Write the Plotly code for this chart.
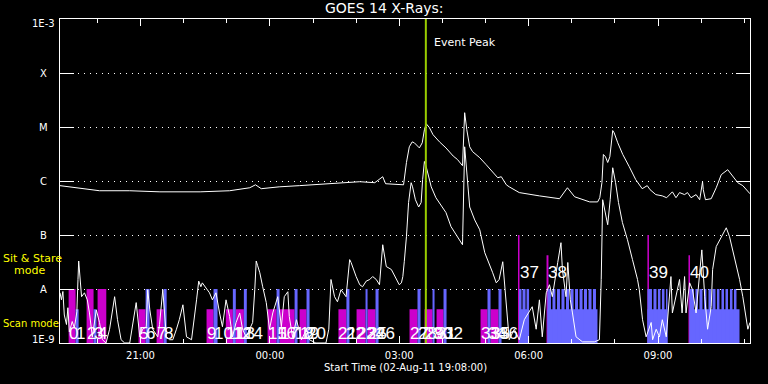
import math
import plotly.graph_objects as go
import pandas as pd

# ---------------- data ----------------
START = pd.Timestamp("2011-08-02 19:08:00")
END_MIN = 960                     # minutes shown after start
EVENT_PEAK_MIN = 509              # 03:37

# GOES long channel (1-8 A), minutes after start / flux W m^-2
long_min = [0, 13, 30, 55, 97, 139, 195, 236, 264, 272,
            280, 305, 333, 375, 417, 438, 449, 453, 472, 478,
            482, 486, 490, 493, 500, 504, 507, 509.5, 514, 519,
            528, 537, 547, 553, 560, 563, 566, 570, 574, 579,
            584, 593, 602, 609, 614, 621, 625, 639, 667, 695,
            706, 716, 737, 748, 751, 754, 756, 759, 762, 765,
            769, 771, 776, 783, 792, 801, 810, 817, 821, 829,
            838, 844, 852, 857, 862, 869, 873, 878, 885, 890,
            894, 895, 898, 906, 913, 920, 929, 936, 943, 950,
            960]
long_flux = [8.2e-7, 7.8e-7, 7.2e-7, 6.6e-7, 6.6e-7, 6.3e-7, 6.3e-7, 6.6e-7, 7.5e-7, 8.5e-7,
             7.2e-7, 7.8e-7, 8.2e-7, 8.9e-7, 9.7e-7, 9.3e-7, 1.2e-6, 8.9e-7, 8.5e-7, 8.5e-7,
             2.2e-6, 4.3e-6, 5.3e-6, 5.1e-6, 4.1e-6, 5.1e-6, 8.9e-6, 1.15e-5, 9.7e-6, 7.2e-6,
             5.3e-6, 4.1e-6, 2.9e-6, 2.5e-6, 1.92e-6, 1.84e-5, 8.9e-6, 4.3e-6, 3.5e-6, 3.1e-6,
             2.7e-6, 2.0e-6, 1.49e-6, 1.15e-6, 1.2e-6, 8.5e-7, 7.8e-7, 6.1e-7, 5.3e-7, 4.7e-7,
             7.5e-7, 5.1e-7, 4.1e-7, 4.1e-7, 4.9e-7, 9.3e-7, 3.1e-6, 2.8e-6, 2.2e-6, 2.8e-6,
             8.6e-6, 7.8e-6, 5.1e-6, 3.1e-6, 1.84e-6, 1.06e-6, 7.2e-7, 8.2e-7, 6.9e-7, 5.6e-7,
             5.3e-7, 4.9e-7, 6.3e-7, 4.9e-7, 6.1e-7, 5.6e-7, 6.1e-7, 4.9e-7, 5.6e-7, 4.5e-7,
             9.7e-7, 6.9e-7, 4.5e-7, 4.7e-7, 7.5e-7, 1.31e-6, 1.62e-6, 1.22e-6, 9.3e-7, 8.2e-7,
             5.8e-7]

# GOES short channel (0.5-4 A)
short_min = [0, 2, 4, 6, 9, 11, 13, 17, 20, 23.5,
             25, 26, 30, 34, 38, 41, 45, 50.5, 55, 59,
             64, 69, 76, 80, 85, 90, 97, 106, 111, 115,
             120, 122, 125, 129, 136, 138.5, 143, 148, 152.5, 157,
             162, 166, 171, 176, 183, 186, 190, 193, 196, 198,
             203.5, 208, 212, 217, 222, 226, 231, 236, 240, 245,
             250, 254, 259, 264, 268, 271, 273, 275, 278, 282,
             287, 291.5, 296, 303, 308, 312, 317, 319, 323.5, 329,
             336, 343, 347, 356, 370, 374, 377, 382, 386, 391,
             398, 403, 405, 412, 417, 421, 426, 431, 435, 440,
             444.5, 449, 454, 461, 468, 472, 475, 477, 479, 482,
             485, 488.5, 490.5, 494.5, 499, 502.5, 504.5, 507, 509.5, 512.5,
             516.5, 523, 530, 537, 544, 553, 560, 563, 565.5, 570,
             577, 584, 591, 595, 602, 607, 611, 616, 621, 625,
             632, 639, 646, 652, 657, 662.5, 667, 671, 676.5, 681,
             685, 692.5, 697, 699, 704, 706.5, 710, 713, 718, 727,
             743.5, 750.5, 753, 755, 757.5, 762, 765.5, 769, 773, 777,
             782.5, 789.5, 796.5, 803.5, 806, 810.5, 815.5, 822.5, 824.5, 829.5,
             834, 838, 843.5, 850, 852, 857, 862, 865.5, 869, 871,
             876, 880, 885, 890, 893, 897, 901, 906, 908, 913,
             920, 927, 931.5, 936, 941, 945.5, 950, 954.5, 957, 960]
short_flux = [8.5e-9, 6.3e-9, 9.0e-9, 3.3e-9, 2.2e-9, 4.5e-9, 1.6e-9, 2.5e-9, 1.9e-9, 3.8e-9,
              1.5e-8, 3.3e-8, 7.2e-9, 8.5e-9, 6.3e-9, 3.6e-9, 1.3e-9, 4.1e-9, 2.4e-9, 1.15e-9,
              1.0e-9, 1.8e-9, 7.2e-9, 2.7e-9, 1.15e-9, 1.0e-9, 1.0e-9, 5.6e-9, 1.3e-9, 1.8e-9,
              2.0e-9, 9.7e-9, 4.1e-9, 1.8e-9, 1.3e-9, 2.2e-9, 9.7e-9, 1.3e-9, 1.15e-9, 1.15e-9,
              1.8e-9, 2.7e-9, 5.1e-9, 1.3e-9, 1.15e-9, 2.7e-9, 6.3e-9, 1.4e-8, 1.1e-8, 1.3e-8,
              1.05e-8, 8.5e-9, 6.3e-9, 8.5e-9, 3.6e-9, 2.0e-9, 6.3e-9, 3.1e-9, 1.3e-9, 2.4e-9,
              3.6e-9, 1.8e-9, 1.3e-9, 1.8e-9, 2.4e-9, 9.7e-9, 3.3e-8, 2.7e-8, 2.0e-8, 1.1e-8,
              5.6e-9, 1.8e-9, 3.6e-9, 7.2e-9, 2.0e-9, 7.2e-9, 8.9e-9, 3.1e-9, 1.3e-9, 2.7e-9,
              1.15e-9, 1.8e-9, 1.15e-9, 1.0e-9, 1.0e-9, 1.8e-9, 1.5e-8, 7.2e-9, 5.8e-9, 9.7e-9,
              7.2e-9, 3.5e-8, 3.1e-8, 1.7e-8, 1.2e-8, 1.1e-8, 1.4e-8, 1.5e-8, 1.7e-8, 1.5e-8,
              1.2e-8, 6.6e-8, 2.6e-8, 2.3e-8, 1.5e-8, 1.2e-8, 1.3e-8, 1.7e-8, 3.2e-8, 9.3e-8,
              4.0e-7, 9.3e-7, 7.8e-7, 4.5e-7, 3.3e-7, 4.0e-7, 1.06e-6, 2.3e-6, 1.84e-6, 1.31e-6,
              7.8e-7, 4.9e-7, 3.6e-7, 2.6e-7, 1.43e-7, 9.3e-8, 6.6e-8, 4.3e-6, 1.84e-6, 3.3e-7,
              1.9e-7, 1.25e-7, 4.7e-8, 3.5e-8, 2.0e-8, 1.3e-8, 1.5e-8, 3.2e-8, 4.1e-9, 1.15e-9,
              1.8e-9, 1.15e-9, 2.7e-9, 3.6e-9, 4.7e-9, 1.8e-9, 6.3e-9, 1.3e-9, 8.5e-9, 1.2e-8,
              7.2e-9, 3.1e-8, 7.2e-8, 2.3e-8, 7.2e-9, 3.1e-8, 6.3e-9, 3.6e-9, 1.3e-9, 1.05e-9,
              1.05e-9, 1.15e-9, 1.5e-8, 4.5e-7, 2.9e-7, 1.55e-7, 4.5e-7, 1.76e-6, 9.3e-7, 4.0e-7,
              1.7e-7, 8.2e-8, 3.5e-8, 1.5e-8, 9.7e-9, 2.7e-9, 1.3e-9, 2.4e-9, 1.15e-9, 1.8e-9,
              1.3e-9, 2.7e-9, 1.3e-9, 1.7e-8, 3.6e-9, 7.2e-9, 1.5e-8, 3.6e-9, 1.7e-8, 3.6e-9,
              1.3e-8, 9.7e-9, 3.6e-9, 2.0e-8, 5.3e-8, 7.2e-9, 1.8e-9, 4.7e-9, 2.3e-8, 6.1e-8,
              9.3e-8, 1.36e-7, 9.3e-8, 5.3e-8, 2.6e-8, 1.5e-8, 7.2e-9, 3.1e-9, 1.8e-9, 2.4e-9]

# Observation blocks (minutes after start)
FLOOR = 1e-9
SIT_STARE_TOP = 1e-8
SCAN_TOP = 4.2e-9

mag_tall_start = [12.0, 37.0, 52.3]
mag_tall_end = [21.7, 46.7, 64.4]

mag_short_start = [109.3, 134.4, 203.9, 230.7, 244.6, 288.8, 305.5, 333.3,
                   387.4, 412.6, 427.9, 486.3, 507.2, 523.9, 585.1, 599.0]
mag_short_end = [119.1, 144.2, 213.6, 240.5, 255.8, 301.3, 326.4, 343.0,
                 398.5, 425.1, 439.0, 497.4, 518.3, 533.6, 594.8, 610.1]

blue_tall_start = [119.1, 144.2, 213.6, 240.5, 255.8, 301.3, 326.4, 343.0,
                   398.5, 425.1, 439.0, 497.4, 518.3, 533.6, 594.8, 610.1,
                   638.6, 643.5, 649.1,
                   678.2, 685.2, 691.5, 697.7, 704.0, 710.3, 716.6, 722.8, 729.0, 735.3, 741.5,
                   817.3, 825.7, 831.9, 837.5, 843.1,
                   875.8, 884.1, 889.7, 896.0, 902.2, 907.8, 914.0, 920.3, 925.9, 932.1, 937.7]
blue_tall_end = [124.6, 148.4, 219.2, 244.6, 259.9, 305.5, 330.5, 347.2,
                 402.7, 427.9, 443.2, 501.6, 521.1, 537.8, 599.0, 614.3,
                 642.1, 647.7, 652.6,
                 683.1, 689.3, 695.6, 701.9, 708.2, 714.5, 720.7, 727.0, 733.2, 739.5, 745.7,
                 823.6, 829.9, 835.4, 841.0, 845.2,
                 882.1, 887.6, 893.9, 899.4, 905.7, 912.0, 917.5, 923.8, 929.4, 935.6, 941.2]

blue_short_start = [21.7, 46.7, 638.6, 678.2, 817.3, 875.8]
blue_short_end = [25.9, 50.9, 652.6, 747.8, 845.2, 945.4]

mag_line_start = [637.2, 676.9, 817.3, 874.4]
mag_line_end = [639.3, 679.6, 819.4, 876.5]
mag_line_top = [1e-7, 4.2e-8, 1e-7, 4.2e-8]

obs_label_min = [12.0, 21.7, 37.0, 46.7, 52.3, 109.3, 119.1, 134.4, 144.2, 203.9,
                 213.6, 230.7, 240.5, 244.6, 255.8, 288.8, 301.3, 305.5, 326.4, 333.3,
                 343.0, 387.4, 398.5, 412.6, 425.1, 427.9, 439.0, 486.3, 497.4, 507.2,
                 518.3, 523.9, 533.6, 585.1, 594.8, 599.0, 610.1]
obs_label_high_min = [639.3, 679.6, 819.4, 876.5]
obs_label_high_text = ["37", "38", "39", "40"]

y_tick_vals = [1e-9, 1e-8, 1e-7, 1e-6, 1e-5, 1e-4, 1e-3]
y_tick_text = ["1E-9", "A", "B", "C", "M", "X", "1E-3"]

MAGENTA = "#cc00cc"
BLUE = "#6666ff"
GREEN = "#99cc00"
YELLOW = "#ffff00"
SMALL = "DejaVu Sans"
NUMF = "Liberation Sans"


def ts(m):
    return START + pd.Timedelta(minutes=m)


fig = go.Figure()


def add_rects(starts, ends, tops, color):
    xs, ys = [], []
    for s, e, top in zip(starts, ends, tops):
        xs += [ts(s), ts(s), ts(e), ts(e), ts(s), None]
        ys += [FLOOR, top, top, FLOOR, FLOOR, None]
    fig.add_trace(go.Scatter(x=xs, y=ys, mode="lines", fill="toself",
                             fillcolor=color, line=dict(width=0, color=color),
                             hoverinfo="skip", showlegend=False))


add_rects(mag_line_start, mag_line_end, mag_line_top, MAGENTA)
add_rects(mag_tall_start, mag_tall_end, [SIT_STARE_TOP] * len(mag_tall_start), MAGENTA)
add_rects(mag_short_start, mag_short_end, [SCAN_TOP] * len(mag_short_start), MAGENTA)
add_rects(blue_short_start, blue_short_end, [SCAN_TOP] * len(blue_short_start), BLUE)
add_rects(blue_tall_start, blue_tall_end, [SIT_STARE_TOP] * len(blue_tall_start), BLUE)

fig.add_trace(go.Scatter(x=[ts(m) for m in short_min], y=short_flux, mode="lines",
                         line=dict(color="white", width=1), showlegend=False))
fig.add_trace(go.Scatter(x=[ts(m) for m in long_min], y=long_flux, mode="lines",
                         line=dict(color="white", width=1), showlegend=False))
fig.add_trace(go.Scatter(x=[ts(EVENT_PEAK_MIN), ts(EVENT_PEAK_MIN)], y=[1e-9, 1e-3],
                         mode="lines", line=dict(color=GREEN, width=2), showlegend=False))

ann = []
# y tick labels (centred, IDL style)
for v, t in zip(y_tick_vals, y_tick_text):
    shift = 0
    if t == "1E-3":
        shift = -4
    if t == "1E-9":
        shift = 4
    ann.append(dict(xref="paper", yref="y", x=-0.0235, y=math.log10(v), text=t,
                    showarrow=False, xanchor="center", yanchor="middle", yshift=shift,
                    font=dict(family=SMALL, size=10, color="white")))
# observation numbers
for i, m in enumerate(obs_label_min):
    ann.append(dict(xref="x", yref="paper", x=ts(m), y=0.03, text=str(i), showarrow=False,
                    xanchor="left", yanchor="middle", xshift=-2,
                    font=dict(family=NUMF, size=17, color="white")))
for m, t in zip(obs_label_high_min, obs_label_high_text):
    ann.append(dict(xref="x", yref="paper", x=ts(m), y=0.219, text=t, showarrow=False,
                    xanchor="left", yanchor="middle", xshift=-2,
                    font=dict(family=NUMF, size=17, color="white")))
# mode labels
ann.append(dict(xref="paper", yref="paper", x=-0.085, y=0.262, text="Sit & Stare",
                showarrow=False, xanchor="left", yanchor="middle",
                font=dict(family=SMALL, size=11, color=YELLOW)))
ann.append(dict(xref="paper", yref="paper", x=-0.069, y=0.223, text="mode",
                showarrow=False, xanchor="left", yanchor="middle",
                font=dict(family=SMALL, size=11, color=YELLOW)))
ann.append(dict(xref="paper", yref="paper", x=-0.085, y=0.061, text="Scan mode",
                showarrow=False, xanchor="left", yanchor="middle",
                font=dict(family=SMALL, size=10, color=YELLOW)))
# event peak
ann.append(dict(xref="x", yref="paper", x=ts(EVENT_PEAK_MIN), y=0.926, text="Event Peak",
                showarrow=False, xanchor="left", yanchor="middle", xshift=6,
                font=dict(family=SMALL, size=11, color="white")))
# title and x-axis title
ann.append(dict(xref="paper", yref="paper", x=0.4696, y=1.035, text="GOES 14 X-Rays:",
                showarrow=False, xanchor="center", yanchor="middle",
                font=dict(family=SMALL, size=14, color="white")))
ann.append(dict(xref="paper", yref="paper", x=0.5, y=-0.077,
                text="Start Time (02-Aug-11 19:08:00)",
                showarrow=False, xanchor="center", yanchor="middle",
                font=dict(family=SMALL, size=10, color="white")))

fig.update_layout(
    width=768, height=384,
    margin=dict(l=60, r=18, t=19, b=41, autoexpand=False),
    paper_bgcolor="black", plot_bgcolor="black",
    showlegend=False,
    annotations=ann,
    xaxis=dict(type="date", range=[ts(0), ts(END_MIN)], automargin=False,
               showline=True, linecolor="white", linewidth=1, mirror="ticks",
               ticks="inside", ticklen=7, tickwidth=1, tickcolor="white",
               tick0="2011-08-02 21:00:00", dtick=3 * 3600 * 1000, tickformat="%H:%M",
               tickfont=dict(family=SMALL, size=10, color="white"),
               ticklabelstandoff=3,
               showgrid=False, zeroline=False,
               minor=dict(ticks="inside", ticklen=4, tickwidth=1, tickcolor="white",
                          tick0="2011-08-02 20:00:00", dtick=3600 * 1000, showgrid=False)),
    yaxis=dict(type="log", range=[-9, -3], tickmode="array", tickvals=y_tick_vals,
               showticklabels=False, automargin=False,
               showline=True, linecolor="white", linewidth=1, mirror="ticks",
               ticks="inside", ticklen=14, tickwidth=1, tickcolor="white",
               showgrid=True, gridcolor="white", gridwidth=1, griddash="1px,5px",
               zeroline=False),
)

fig.write_html("out.html", config={"displayModeBar": False},
               post_script="document.body.style.margin='0';document.body.style.padding='0';"
                           "document.documentElement.style.background='black';")
